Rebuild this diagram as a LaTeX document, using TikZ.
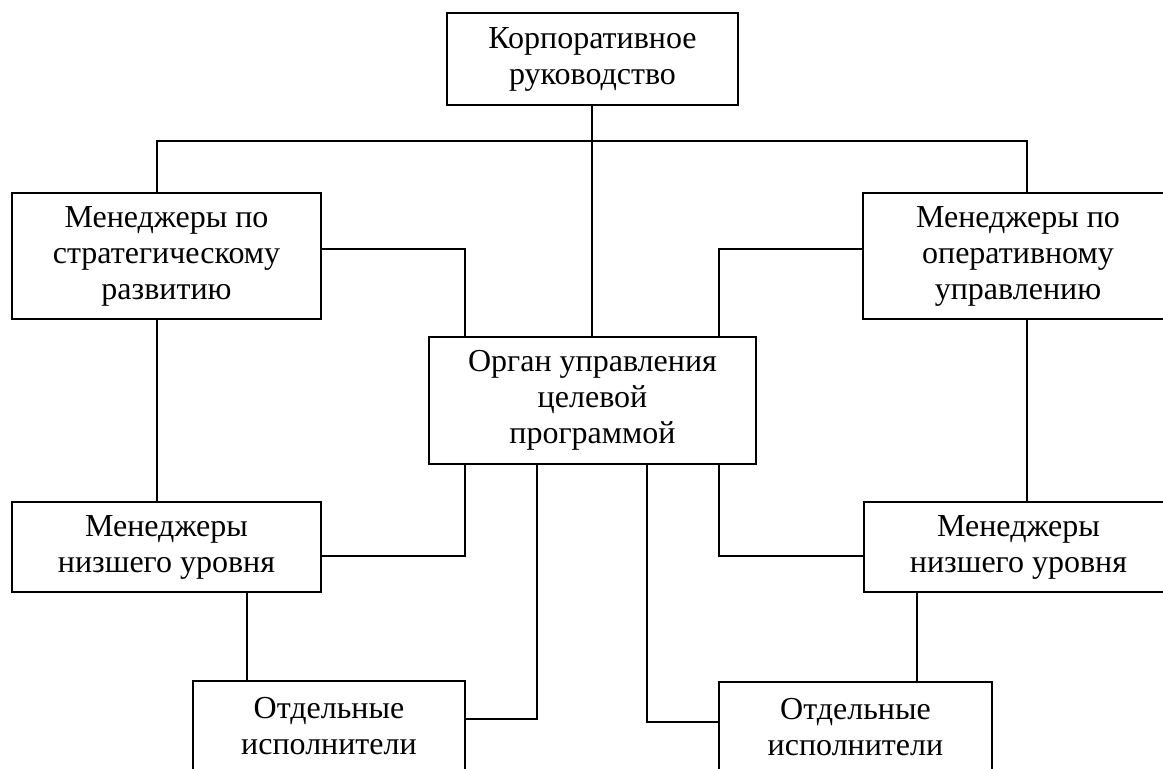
\documentclass[tikz,border=0pt]{standalone}
\usepackage{fontspec}
\setmainfont{Liberation Serif}
\usepackage{tikz}
\usetikzlibrary{calc}
\tikzstyle{box}=[draw, line width=2pt, inner sep=0pt, align=center, font=\fontsize{32}{36}\selectfont]
\tikzstyle{link}=[line width=1.8pt]
\begin{document}
\begin{tikzpicture}[x=1pt,y=-1pt]
\fill[white] (0,0) rectangle (1163,769);
\clip (0,0) rectangle (1163,769);
\node[box, minimum width=291, minimum height=92] (korp) at (592.5,59) {Корпоративное\\руководство};
\node[box, minimum width=309, minimum height=126] (strat) at (166.5,256) {Менеджеры по\\стратегическому\\развитию};
\node[box, minimum width=310, minimum height=126] (oper) at (1018,256) {Менеджеры по\\оперативному\\управлению};
\node[box, minimum width=327, minimum height=127] (organ) at (592.5,400.5) {Орган управления\\целевой\\программой};
\node[box, minimum width=309, minimum height=90] (low1) at (166.5,547) {Менеджеры\\низшего уровня};
\node[box, minimum width=309, minimum height=90] (low2) at (1018.5,547) {Менеджеры\\низшего уровня};
\node[box, minimum width=272, minimum height=90] (exec1) at (329,726) {Отдельные\\исполнители};
\node[box, minimum width=273, minimum height=90] (exec2) at (855.5,727) {Отдельные\\исполнители};
\coordinate (bus) at (592,141);
\coordinate (k1) at ($(korp.south)+(-0.5,0)$);
\coordinate (s1) at ($(strat.north)+(-9.5,0)$);
\coordinate (o1) at ($(oper.north)+(9,0)$);
\coordinate (s2) at ($(strat.south)+(-9.5,0)$);
\coordinate (o2) at ($(oper.south)+(9,0)$);
\coordinate (d1) at ($(low1.south)+(80.5,0)$);
\coordinate (d2) at ($(low2.south)+(-101.5,0)$);
\draw[link] (k1) -- (k1 |- organ.north);
\draw[link] (s1) |- (bus) -| (o1);
\draw[link] ($(strat.east)+(0,-7)$) -| ($(organ.north)+(-127.5,0)$);
\draw[link] ($(oper.west)+(0,-7)$) -| ($(organ.north)+(126.5,0)$);
\draw[link] (s2) -- (s2 |- low1.north);
\draw[link] (o2) -- (o2 |- low2.north);
\draw[link] ($(low1.east)+(0,9)$) -| ($(organ.south)+(-127.5,0)$);
\draw[link] ($(low2.west)+(0,9)$) -| ($(organ.south)+(126.5,0)$);
\draw[link] (d1) -- (d1 |- exec1.north);
\draw[link] (d2) -- (d2 |- exec2.north);
\draw[link] ($(exec1.east)+(0,-7)$) -| ($(organ.south)+(-55.5,0)$);
\draw[link] ($(exec2.west)+(0,-5)$) -| ($(organ.south)+(54.5,0)$);
\end{tikzpicture}
\end{document}
